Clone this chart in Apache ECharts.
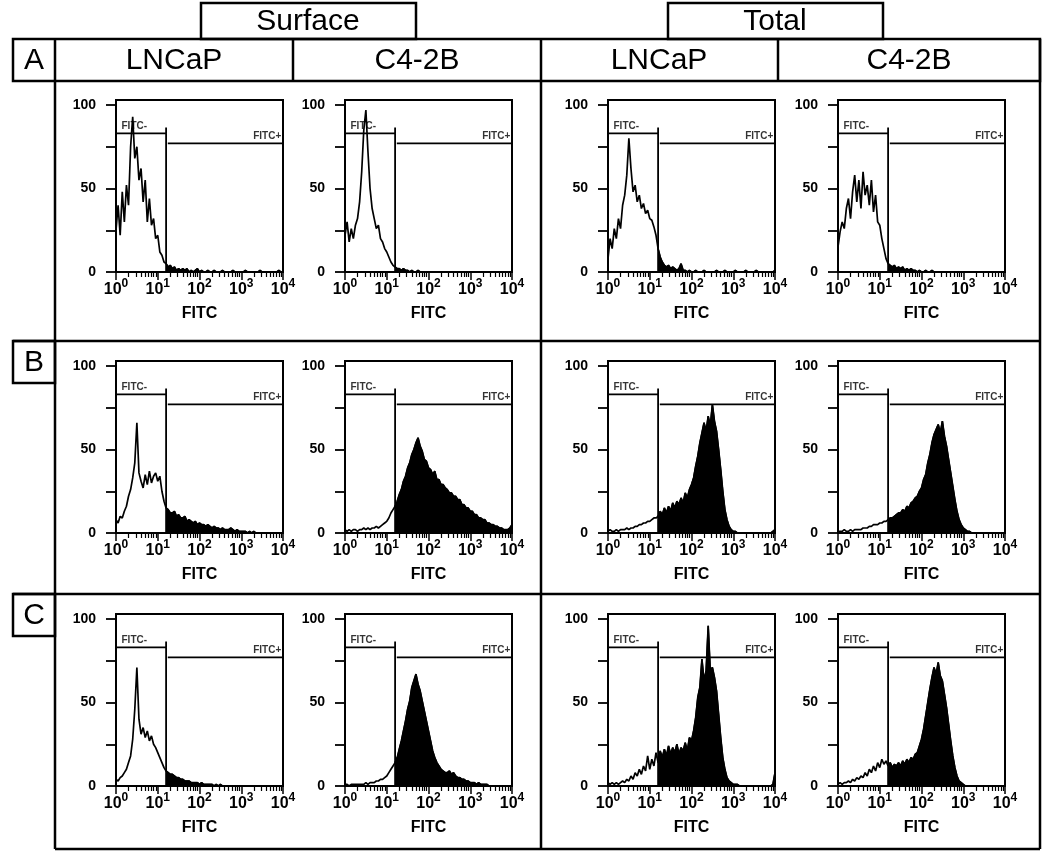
<!DOCTYPE html>
<html><head><meta charset="utf-8">
<script src="https://cdn.jsdelivr.net/npm/echarts@6/dist/echarts.min.js"></script>
<style>html,body{margin:0;padding:0;background:#fff}#c{width:1050px;height:855px}</style>
</head><body><div id="c"></div>
<script>
// ---------- labels ----------
const groupNames = ['Surface', 'Total'];
const columnNames = ['LNCaP', 'C4-2B', 'LNCaP', 'C4-2B'];
const rowNames = ['A', 'B', 'C'];
const axisName = 'FITC';
const gateNames = ['FITC-', 'FITC+'];
const decadeTicks = [0, 1, 2, 3, 4];           // log10 positions of 10^0..10^4
const minorMultipliers = [2, 3, 4, 5, 6, 7, 8, 9];
const yTickValues = [0, 25, 50, 75, 100];
const yLabelValues = [0, 50, 100];

// ---------- histogram data: counts per channel, channel i at log10 = i*binStep ----------
const binStep = 0.05;
const A_surf_LNCaP = [25,40,22,48,30,52,40,75,93,68,75,55,62,42,55,30,44,28,32,20,22,12,10,6,5,3,4,2,3,1,2,1,2,1,2,0,1,0,1,2,0,1,0,0,1,0,0,1,0,0,0,1,0,0,0,0,1,0,0,0,0,0,1,0,0,0,0,0,0,1,0,0,0,0,0,0,0,0,1,0,0];
const A_surf_C42B  = [22,30,18,26,20,28,32,42,60,85,97,72,50,38,32,26,28,20,18,14,12,9,6,4,3,2,2,1,2,1,1,0,1,0,0,1,0,0,0,0,0,0,0,0,0,0,0,0,0,0,0,0,0,0,0,0,0,0,0,0,0,0,0,0,0,0,0,0,0,0,0,0,0,0,0,0,0,0,0,0,0];
const A_tot_LNCaP  = [8,20,14,26,20,32,26,40,46,58,80,62,48,52,42,46,38,41,35,37,32,31,27,22,14,9,6,4,3,4,2,3,2,1,2,5,1,1,0,1,0,0,1,0,0,0,1,0,0,0,0,0,1,0,0,0,1,0,0,0,0,1,0,0,0,0,1,0,0,0,0,1,0,0,0,0,0,0,0,0,1];
const A_tot_C42B   = [15,24,30,26,38,44,32,48,58,42,55,38,60,46,52,40,55,36,46,30,28,20,14,8,5,4,3,4,2,3,2,3,1,2,1,2,1,1,0,1,0,0,1,0,0,1,0,0,0,0,0,0,0,0,0,0,0,0,0,0,0,0,0,0,0,0,0,0,0,0,0,0,0,0,0,0,0,0,0,0,0];
const B_surf_LNCaP = [8,6,10,9,13,16,22,26,33,42,66,36,31,27,35,29,37,30,34,36,31,34,25,19,15,14,12,12,13,10,11,9,9,10,7,8,7,6,7,5,6,5,5,4,5,4,3,4,3,3,2,3,2,2,2,3,2,1,2,1,1,1,1,0,1,0,1,0,0,0,0,0,0,0,0,0,0,0,0,0,0];
const B_surf_C42B  = [2,1,2,1,2,2,1,2,2,3,2,3,2,3,3,4,3,4,5,6,7,9,12,14,16,19,23,26,31,34,39,42,47,50,54,57,52,49,44,43,39,38,35,37,32,32,29,29,27,26,24,24,22,22,20,20,17,17,15,15,13,13,11,11,9,9,8,8,6,6,5,5,4,4,3,3,2,2,2,3,5];
const B_tot_LNCaP  = [1,2,1,1,2,1,2,2,2,3,2,3,3,4,4,5,5,6,6,7,7,8,9,9,10,13,11,15,12,16,13,18,15,19,17,21,18,24,21,26,29,33,40,46,54,60,66,61,70,64,77,67,61,50,38,25,14,8,4,2,1,1,0,0,0,0,0,0,0,0,0,0,0,0,0,0,0,0,0,1,2];
const B_tot_C42B   = [1,1,1,2,1,1,2,1,2,2,2,2,3,3,3,4,4,5,5,5,6,6,7,7,8,9,9,10,11,12,12,14,13,16,15,18,19,21,22,25,27,32,35,42,47,54,59,62,65,60,67,58,52,44,36,28,20,13,8,5,3,2,1,1,0,0,0,0,0,0,0,0,0,0,0,0,0,0,0,0,0];
const C_surf_LNCaP = [4,3,5,6,8,10,14,18,28,46,71,40,31,35,29,33,27,30,25,23,20,17,14,11,9,8,7,7,6,5,5,4,4,3,3,3,2,2,2,2,1,2,1,1,1,1,1,0,1,0,1,0,0,0,0,0,0,0,0,0,0,0,0,0,0,0,0,0,0,0,0,0,0,0,0,0,0,0,0,0,0];
const C_surf_C42B  = [1,1,0,1,1,1,1,1,1,1,2,1,2,2,2,3,3,4,4,5,6,8,10,12,14,17,22,27,33,39,46,51,59,63,67,61,57,51,45,39,33,27,21,17,14,12,10,9,8,8,9,7,8,6,5,5,4,4,3,3,2,2,2,1,2,1,1,1,1,0,0,0,0,0,0,0,0,0,0,0,0];
const C_tot_LNCaP  = [2,1,2,1,2,1,2,3,2,4,3,6,4,8,6,10,7,12,9,18,10,16,12,20,14,21,17,22,18,24,19,23,20,25,19,23,21,26,21,29,27,33,41,53,59,76,63,69,96,69,71,65,57,43,29,17,10,5,3,2,1,1,1,0,0,0,0,0,0,0,0,0,0,0,0,0,0,0,0,1,8];
const C_tot_C42B   = [1,2,1,2,2,3,2,4,3,5,4,6,5,8,6,10,8,12,9,14,11,16,13,15,12,14,11,13,12,14,12,15,13,16,14,17,16,19,20,24,28,34,42,50,58,65,71,67,74,66,63,55,47,37,27,18,11,6,3,2,1,0,0,0,0,0,0,0,0,0,0,0,0,0,0,0,0,0,0,0,0];

// ---------- gate markers (log10 FITC, % of max) ----------
const gateNegEnd = 1.2, gatePosStart = 1.24;
const negLevel = 83, negTop = 86.5, posLevel = 77, posTickTop = 79.5, posTickBottom = 73.5;
const negLabelAt = [0.12, 87.2], posLabelAt = [3.97, 81];

const panelData = [
  [A_surf_LNCaP, A_surf_C42B, A_tot_LNCaP, A_tot_C42B],
  [B_surf_LNCaP, B_surf_C42B, B_tot_LNCaP, B_tot_C42B],
  [C_surf_LNCaP, C_surf_C42B, C_tot_LNCaP, C_tot_C42B]
];

// ---------- layout ----------
const F = 'Liberation Sans, Arial, sans-serif';
const colLeft = [116, 345, 608, 838];
const rowTop = [100, 361, 614];
const plotW = 167, plotH = 172;

const minorTicks = [];
for (let d = 0; d < 4; d++) minorMultipliers.forEach(m => minorTicks.push(d + Math.log10(m)));

const grids = [], xAxes = [], yAxes = [], series = [];
let k = 0;
panelData.forEach((row, r) => row.forEach((hist, c) => {
  grids.push({left: colLeft[c], top: rowTop[r], width: plotW, height: plotH, show: true,
    borderColor: '#000', borderWidth: 2, backgroundColor: 'rgba(0,0,0,0)'});
  xAxes.push({gridIndex: k, type: 'value', min: 0, max: 4, interval: 1, position: 'bottom',
    axisLine: {show: true, onZero: false, lineStyle: {color: '#000', width: 2}},
    axisTick: {show: true, length: 8, customValues: decadeTicks, lineStyle: {color: '#000', width: 1.5}},
    axisLabel: {margin: 6, customValues: decadeTicks, formatter: v => '{b|10}{s|' + v + '}',
      rich: {b: {fontSize: 16, fontWeight: 'bold', fontFamily: F, color: '#000', lineHeight: 24},
             s: {fontSize: 12, fontWeight: 'bold', fontFamily: F, color: '#000', verticalAlign: 'top'}}},
    splitLine: {show: false},
    name: axisName, nameLocation: 'middle', nameGap: 34,
    nameTextStyle: {fontSize: 16, fontWeight: 'bold', fontFamily: F, color: '#000'}});
  xAxes.push({gridIndex: k, type: 'value', min: 0, max: 4, position: 'bottom',
    axisLine: {show: false, onZero: false},
    axisTick: {show: true, length: 5, customValues: minorTicks, lineStyle: {color: '#000', width: 1.2}},
    axisLabel: {show: false}, splitLine: {show: false}});
  yAxes.push({gridIndex: k, type: 'value', min: 0, max: 103,
    axisLine: {show: true, onZero: false, lineStyle: {color: '#000', width: 2}},
    axisTick: {show: true, length: 10, customValues: yTickValues, lineStyle: {color: '#000', width: 1.8}},
    axisLabel: {margin: 20, customValues: yLabelValues, fontSize: 14, fontWeight: 'bold', fontFamily: F, color: '#000'},
    splitLine: {show: false}});
  const pts = hist.map((v, i) => [+(i * binStep).toFixed(3), v]);
  const xi = 2 * k;
  series.push({type: 'line', xAxisIndex: xi, yAxisIndex: k, data: pts.filter(p => p[0] >= gateNegEnd - 1e-9),
    symbol: 'none', lineStyle: {color: '#000', width: 1.4}, areaStyle: {color: '#000', opacity: 1}, z: 2});
  series.push({type: 'line', xAxisIndex: xi, yAxisIndex: k, data: pts,
    symbol: 'none', lineStyle: {color: '#000', width: 1.7}, z: 3});
  series.push({type: 'line', xAxisIndex: xi, yAxisIndex: k, symbol: 'none', z: 4,
    data: [[0, negLevel], [gateNegEnd, negLevel], [gateNegEnd, negTop], [gateNegEnd, 0]],
    lineStyle: {color: '#000', width: 1.8}});
  series.push({type: 'line', xAxisIndex: xi, yAxisIndex: k, symbol: 'none', z: 4,
    data: [[gatePosStart, posLevel], [4, posLevel], [4, posTickTop], [4, posTickBottom]],
    lineStyle: {color: '#000', width: 1.8}});
  series.push({type: 'scatter', xAxisIndex: xi, yAxisIndex: k, symbolSize: 1, z: 5, silent: true,
    itemStyle: {color: 'rgba(0,0,0,0)'},
    data: [{value: negLabelAt, label: {position: 'right', formatter: gateNames[0]}},
           {value: posLabelAt, label: {position: 'left', formatter: gateNames[1]}}],
    label: {show: true, distance: 0, fontSize: 10, fontWeight: 'bold', fontFamily: F, color: '#000'}});
  k++;
}));

// ---------- table frame ----------
const LW = 2.5;
const ln = (x1, y1, x2, y2) => ({type: 'line', shape: {x1, y1, x2, y2}, style: {stroke: '#000', lineWidth: LW}, z: 10});
const rc = (x, y, w, h) => ({type: 'rect', shape: {x, y, width: w, height: h}, style: {fill: 'none', stroke: '#000', lineWidth: LW}, z: 10});
const tx = (t, x, y) => ({type: 'text', x, y, z: 10, style: {text: t, fontSize: 30, fontFamily: F, fill: '#000', align: 'center', verticalAlign: 'middle'}});
const graphic = [
  rc(201, 3, 215, 36), rc(668, 3, 215, 36),
  rc(13, 39, 1027, 42),
  ln(55, 39, 55, 849), ln(293, 39, 293, 81), ln(541, 39, 541, 849), ln(778, 39, 778, 81),
  ln(1040, 39, 1040, 849), ln(55, 849, 1040, 849),
  ln(13, 341, 1040, 341), rc(13, 341, 42, 42),
  ln(13, 594, 1040, 594), rc(13, 594, 42, 42),
  tx(groupNames[0], 308, 22), tx(groupNames[1], 775, 22),
  tx(rowNames[0], 34, 61), tx(rowNames[1], 34, 363), tx(rowNames[2], 34, 616),
  tx(columnNames[0], 174, 61), tx(columnNames[1], 417, 61), tx(columnNames[2], 659, 61), tx(columnNames[3], 909, 61)
];

const chart = echarts.init(document.getElementById('c'), null, {renderer: 'canvas'});
chart.setOption({animation: false, backgroundColor: '#fff', grid: grids, xAxis: xAxes, yAxis: yAxes, series, graphic});
</script></body></html>
